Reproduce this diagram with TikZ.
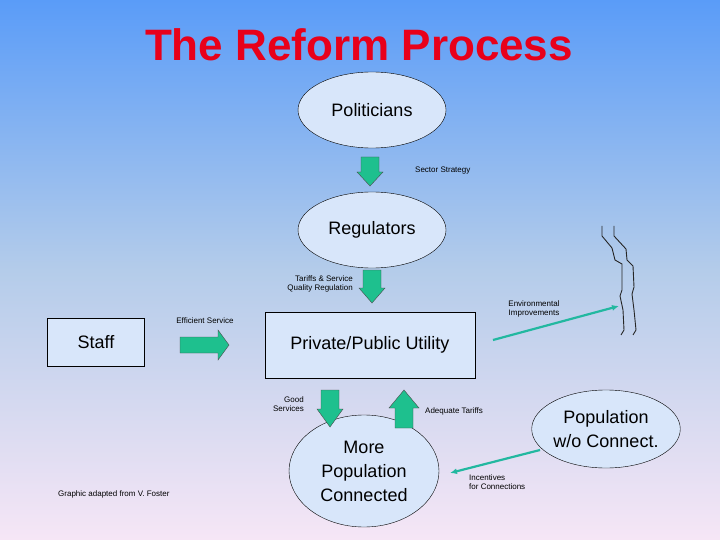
\documentclass[tikz,border=0pt]{standalone}
\usepackage{fontspec}
\setmainfont{Liberation Sans}
\usetikzlibrary{shapes.geometric,arrows.meta}
\definecolor{bgtop}{HTML}{5A9CF8}
\definecolor{bgmid}{HTML}{B4CCEA}
\definecolor{bgbot}{HTML}{F6E6F6}
\definecolor{boxfill}{HTML}{D8E6FA}
\definecolor{arrgreen}{HTML}{1EC08E}
\definecolor{teal}{HTML}{22B8A0}
\definecolor{titlered}{HTML}{E8001A}
\begin{document}
\begin{tikzpicture}[x=1pt,y=-1pt,
  ell/.style={ellipse,draw=black,fill=boxfill,inner sep=0pt,font=\fontsize{18}{20}\selectfont,align=center},
  box/.style={rectangle,draw=black,fill=boxfill,inner sep=0pt,font=\fontsize{18}{20}\selectfont},
  lbl/.style={font=\fontsize{8}{9.5}\selectfont,align=center,inner sep=0pt},
  blk/.style={draw=black!70,fill=arrgreen,line join=miter},
  tealarr/.style={draw=teal,line width=2.2pt,-{Latex[length=7pt,width=6pt]}},
  river/.style={draw=black!85,line width=0.9pt}]
\useasboundingbox (0,0) rectangle (720,540);
\shade[top color=bgtop,bottom color=bgmid] (0,0) rectangle (720,270);
\shade[top color=bgmid,bottom color=bgbot] (0,270) rectangle (720,540);
\node[font=\bfseries\fontsize{44}{48}\selectfont,text=titlered] (title) at (359,45) {The Reform Process};
\node[ell,minimum width=148,minimum height=76] (pol) at (372,110) {Politicians};
\node[ell,minimum width=148,minimum height=76] (reg) at (372,230) {Regulators};
\node[box,minimum width=97,minimum height=48] (staff) at (96,342) {Staff};
\node[box,minimum width=210,minimum height=66] (util) at (370,345) {Private/Public Utility};
\node[ell,minimum width=150,minimum height=112,font=\fontsize{18}{24}\selectfont] (more) at (364,471) {More\\Population\\Connected};
\node[ell,minimum width=132,minimum height=78,font=\fontsize{18}{24}\selectfont] (wo) at (606,429) {Population\\w/o Connect.};
% block arrows
\draw[blk] (361,157) -- (379,157) -- (379,172) -- (383,172) -- (370,186) -- (357,172) -- (361,172) -- cycle;
\draw[blk] (363,270) -- (381,270) -- (381,288) -- (385,288) -- (372,303) -- (359,288) -- (363,288) -- cycle;
\draw[blk] (180,337) -- (218,337) -- (218,330) -- (229,345) -- (218,360) -- (218,353) -- (180,353) -- cycle;
\draw[blk] (321,390) -- (339,390) -- (339,409) -- (343,409) -- (330,427) -- (317,409) -- (321,409) -- cycle;
\draw[blk] (395,428) -- (413,428) -- (413,408) -- (419,408) -- (404,390) -- (389,408) -- (395,408) -- cycle;
% labels
\node[lbl,anchor=west] (l1) at (415,171) {Sector Strategy};
\node[lbl,anchor=east,align=right] (l2) at (353,284) {Tariffs \& Service\\Quality Regulation};
\node[lbl] (l3) at (205,321) {Efficient Service};
\node[lbl,anchor=east,align=right] (l4) at (304,404) {Good\\Services};
\node[lbl,anchor=west] (l5) at (425,411) {Adequate Tariffs};
\node[lbl] (l6) at (534,309) {Environmental\\Improvements};
\node[lbl,anchor=west,align=left] (l7) at (469,482) {Incentives\\for Connections};
\node[lbl,anchor=west] (l8) at (58,494) {Graphic adapted from V. Foster};
% teal arrows
\coordinate (t1s) at (493,340);
\coordinate (t1e) at (619,306);
\draw[tealarr] (t1s) -- (t1e);
\coordinate (t2s) at (540,450);
\coordinate (t2e) at (450,473);
\draw[tealarr] (t2s) -- (t2e);
% river
\draw[river] (602,226) -- (602,236) -- (612,248) -- (615,260) -- (622,264) -- (622,290) -- (620,296) -- (623,310) -- (624,330) -- (621,335);
\draw[river] (614,226) -- (614,236) -- (626,249) -- (627,260) -- (633,266) -- (634,287) -- (632,294) -- (634,310) -- (636,330) -- (633,335);
\end{tikzpicture}
\end{document}
